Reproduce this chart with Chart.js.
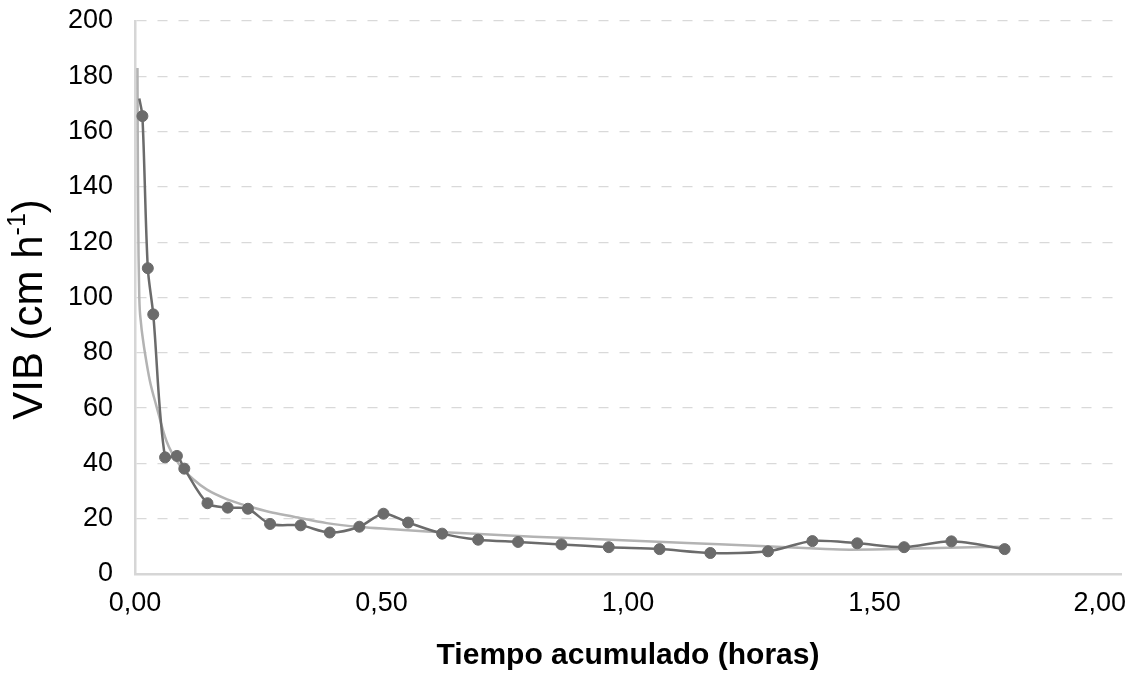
<!DOCTYPE html>
<html>
<head>
<meta charset="utf-8">
<script src="https://cdn.jsdelivr.net/npm/chart.js@4/dist/chart.umd.min.js"></script>
<style>
  html, body { margin: 0; padding: 0; background: #ffffff; }
  #wrap { width: 1140px; height: 685px; }
</style>
</head>
<body>
<div id="wrap"><canvas id="grafico" width="1140" height="685"></canvas></div>
<script>
// Velocidad de infiltración básica medida (cm h-1) frente al tiempo acumulado (horas)
const tiempo = [0.015, 0.026, 0.037, 0.061, 0.085, 0.100, 0.147, 0.188, 0.229, 0.274,
                0.336, 0.395, 0.455, 0.504, 0.554, 0.623, 0.696, 0.777, 0.865, 0.961,
                1.064, 1.167, 1.284, 1.374, 1.465, 1.560, 1.656, 1.764];
const vib = [165.6, 110.6, 93.9, 42.2, 42.7, 38.1, 25.6, 24.0, 23.6, 18.1,
             17.6, 15.0, 17.1, 21.8, 18.6, 14.6, 12.4, 11.6, 10.7, 9.7,
             9.0, 7.6, 8.2, 11.9, 11.1, 9.7, 11.8, 9.0];

// Inicio de la curva suavizada (sin marcador)
const inicioTiempo = [0.0087];
const inicioVib = [172];

// Curva de ajuste
const ajusteTiempo = [0.005, 0.0055, 0.0062, 0.0072, 0.0087, 0.012, 0.016, 0.021, 0.030, 0.043,
                      0.064, 0.088, 0.120, 0.146, 0.187, 0.234, 0.271, 0.322, 0.389, 0.457,
                      0.524, 0.592, 0.660, 0.808, 0.977, 1.120, 1.280, 1.390, 1.450, 1.550,
                      1.650, 1.760];
const ajusteVib = [183, 160, 135, 115, 100, 91, 85, 79, 70, 61,
                   48, 40, 34, 30.5, 27, 24.3, 22.5, 20.7, 18.4, 17.0,
                   16.2, 15.4, 14.8, 13.5, 12.3, 11.2, 10.0, 9.1, 8.8, 9.0,
                   9.5, 9.9];

// Marcas de los ejes
const ticksX = [0, 0.5, 1.0, 1.5, 2.0];
const ticksYMin = 0, ticksYMax = 200, ticksYPaso = 20;

const tituloX = 'Tiempo acumulado (horas)';
const tituloY = 'VIB (cm h';
const tituloYSup = '-1';
const tituloYFin = ')';

const FUENTE = "'Liberation Sans', Arial, Helvetica, sans-serif";
const GRIS_OSCURO = '#6b6b6b';
const GRIS_CLARO = '#b3b3b3';
const GRIS_EJE = '#d6d6d6';

const puntosMedidos = tiempo.map((t, i) => ({ x: t, y: vib[i] }));
const puntosLinea = inicioTiempo.map((t, i) => ({ x: t, y: inicioVib[i] })).concat(puntosMedidos);
const puntosAjuste = ajusteTiempo.map((t, i) => ({ x: t, y: ajusteVib[i] }));
const nInicio = inicioTiempo.length;

// Etiquetas del eje X y títulos de ejes dibujados a mano
const rotulos = {
  id: 'rotulos',
  afterDraw(chart) {
    const ctx = chart.ctx;
    const xs = chart.scales.x;
    const area = chart.chartArea;
    ctx.save();
    ctx.fillStyle = '#000000';
    ctx.textBaseline = 'middle';
    ctx.textAlign = 'left';
    ctx.font = '27px ' + FUENTE;
    ticksX.forEach(v => {
      const txt = v.toFixed(2).replace('.', ',');
      const w = ctx.measureText(txt).width;
      let px = xs.getPixelForValue(v) - w / 2;
      if (px + w > chart.width - 14) px = chart.width - 14 - w;
      ctx.fillText(txt, px, 604);
    });

    ctx.font = 'bold 30px ' + FUENTE;
    ctx.textAlign = 'center';
    ctx.fillText(tituloX, (area.left + area.right) / 2, 656);

    // Título vertical con superíndice
    const fy = 42, fs = 25;
    ctx.translate(30, (area.top + area.bottom) / 2 + 12);
    ctx.rotate(-Math.PI / 2);
    ctx.font = fy + 'px ' + FUENTE;
    const w1 = ctx.measureText(tituloY).width;
    const w3 = ctx.measureText(tituloYFin).width;
    ctx.font = fs + 'px ' + FUENTE;
    const w2 = ctx.measureText(tituloYSup).width;
    let x0 = -(w1 + w2 + w3) / 2;
    ctx.textAlign = 'left';
    ctx.font = fy + 'px ' + FUENTE;
    ctx.fillText(tituloY, x0, 0);
    ctx.font = fs + 'px ' + FUENTE;
    ctx.fillText(tituloYSup, x0 + w1, -12);
    ctx.font = fy + 'px ' + FUENTE;
    ctx.fillText(tituloYFin, x0 + w1 + w2, 0);
    ctx.restore();
  }
};

new Chart(document.getElementById('grafico'), {
  type: 'scatter',
  data: {
    datasets: [
      {
        label: 'VIB',
        data: puntosLinea,
        showLine: true,
        tension: 0.3,
        borderColor: GRIS_OSCURO,
        borderWidth: 2.5,
        backgroundColor: GRIS_OSCURO,
        pointBackgroundColor: GRIS_OSCURO,
        pointBorderColor: GRIS_OSCURO,
        pointBorderWidth: 1,
        pointRadius: c => (c.dataIndex < nInicio ? 0 : 5.5),
        pointHoverRadius: c => (c.dataIndex < nInicio ? 0 : 5.5)
      },
      {
        label: 'Ajuste',
        data: puntosAjuste,
        showLine: true,
        cubicInterpolationMode: 'monotone',
        borderColor: GRIS_CLARO,
        borderWidth: 2.5,
        pointRadius: 0,
        pointHoverRadius: 0
      }
    ]
  },
  options: {
    responsive: false,
    animation: false,
    devicePixelRatio: 1,
    layout: { padding: { top: 21, right: 19, left: 0, bottom: 0 } },
    plugins: {
      legend: { display: false },
      tooltip: { enabled: false },
      title: { display: false }
    },
    scales: {
      x: {
        type: 'linear',
        min: 0,
        max: 2,
        ticks: { display: false, stepSize: 0.5 },
        grid: { display: false },
        border: { display: true, color: GRIS_EJE, width: 2.5 },
        afterFit: s => { s.height = 111; s.paddingLeft = 0; s.paddingRight = 0; }
      },
      y: {
        type: 'linear',
        min: ticksYMin,
        max: ticksYMax,
        ticks: {
          stepSize: ticksYPaso,
          color: '#000000',
          padding: 22,
          font: { family: FUENTE, size: 27 }
        },
        grid: { color: '#d9d9d9', lineWidth: 1.3, drawTicks: false },
        border: { display: true, color: GRIS_EJE, width: 2.5, dash: [10, 11] },
        afterFit: s => { s.width = 135; s.paddingTop = 0; s.paddingBottom = 0; }
      }
    }
  },
  plugins: [rotulos]
});
</script>
</body>
</html>
